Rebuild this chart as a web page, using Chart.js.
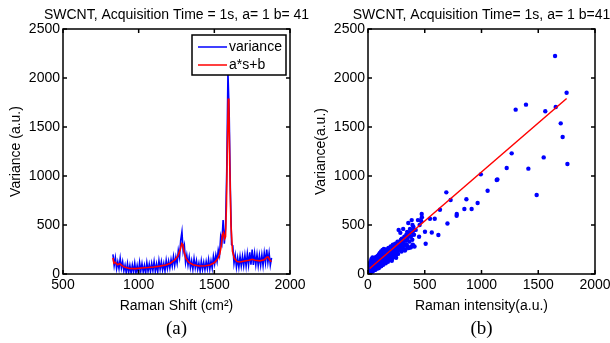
<!DOCTYPE html>
<html>
<head>
<meta charset="utf-8">
<script src="https://cdn.jsdelivr.net/npm/chart.js@4.4.0/dist/chart.umd.min.js"></script>
<style>
  body { margin: 0; background: #fff; }
  #wrap { position: relative; width: 610px; height: 343px; overflow: hidden; }
  .panel { position: absolute; top: 0; height: 343px; }
  .tag { position: absolute; top: 317px; width: 227px; text-align: center;
         font: 19px "Liberation Serif", "Times New Roman", serif; line-height: 22px; color: #000; }
</style>
</head>
<body>
<div id="wrap">
  <div class="panel" style="left:0;width:320px"><canvas id="spectrumChart" width="320" height="343"></canvas></div>
  <div class="panel" style="left:305px;width:305px"><canvas id="scatterChart" width="305" height="343"></canvas></div>
  <div class="tag" style="left:63px">(a)</div>
  <div class="tag" style="left:368px">(b)</div>
</div>
<script>
// (a) measured spectrum: Raman shift vs variance
var shift = [830,838,846,854,862,870,878,886,894,902,
  910,918,926,934,942,950,958,966,974,982,
  990,998,1006,1014,1022,1030,1038,1046,1054,1062,
  1070,1078,1086,1094,1102,1110,1118,1126,1134,1142,
  1150,1158,1166,1174,1182,1190,1198,1206,1214,1222,
  1230,1238,1246,1254,1262,1270,1278,1286,1294,1302,
  1310,1318,1326,1334,1342,1350,1358,1366,1374,1382,
  1390,1398,1406,1414,1422,1430,1438,1446,1454,1462,
  1470,1478,1486,1494,1502,1510,1518,1526,1534,1542,
  1550,1558,1566,1574,1582,1590,1598,1606,1614,1622,
  1630,1638,1646,1654,1662,1670,1678,1686,1694,1702,
  1710,1718,1726,1734,1742,1750,1758,1766,1774,1782,
  1790,1798,1806,1814,1822,1830,1838,1846,1854,1862,
  1870,1878];
var variance = [200,85,165,55,125,55,160,60,125,32,
  90,12,105,16,88,10,92,18,109,8,
  86,7,118,29,105,21,87,8,114,27,
  101,25,108,34,125,26,102,23,135,47,
  124,41,108,31,139,55,132,60,148,80,
  178,88,175,110,240,170,345,430,230,290,
  115,190,90,173,65,134,49,155,62,135,
  48,111,30,134,46,119,43,126,53,147,
  51,132,60,180,102,193,128,245,190,380,
  320,550,310,470,1050,2050,1650,850,300,290,
  110,190,70,163,70,178,82,180,83,190,
  82,205,93,222,96,250,93,209,95,197,
  85,189,89,195,88,215,115,250,120,215,
  90,165];

// (a) fitted curve a*s+b
var fitShift = [830,836,845,860,875,890,910,940,980,1020,
  1060,1100,1140,1180,1210,1240,1260,1275,1285,1292,
  1300,1312,1330,1360,1400,1440,1470,1500,1520,1535,
  1545,1553,1560,1568,1574,1580,1586,1592,1596,1602,
  1610,1620,1632,1650,1670,1700,1730,1750,1770,1800,
  1830,1845,1855,1868,1878];
var fitValue = [165,110,120,95,105,85,68,56,55,62,
  66,72,80,92,110,145,185,250,310,300,
  230,160,120,95,82,84,92,115,150,200,
  280,400,420,360,380,700,1300,1790,1700,1100,
  500,230,160,128,122,132,140,150,140,134,
  145,170,175,140,125];

// (b) Raman intensity vs variance, one entry per pixel
var intensity = [5,8,10,12,15,18,20,22,25,28,30,32,35,38,40,42,45,48,50,52,
  55,58,60,62,65,68,70,72,75,78,80,82,85,88,90,92,95,98,100,102,
  105,108,110,112,115,118,120,125,128,130,135,138,140,145,150,155,160,165,170,175,
  180,185,190,195,200,205,210,215,220,225,230,235,240,245,250,255,260,265,270,275,
  280,285,290,295,300,305,310,315,320,330,335,340,345,350,355,360,365,370,375,380,
  385,390,395,400,405,410,420,440,450,455,465,470,475,
  2,3,6,14,24,33,44,58,66,84,96,116,134,156,176,198,222,248,262,290,325,358,385,
  10,20,30,40,
  3,7,9,13,16,19,23,26,29,34,37,41,46,49,53,57,61,64,67,71,
  74,77,83,87,91,94,99,103,107,113,117,122,127,132,137,143,148,153,158,163,
  168,173,178,183,188,193,203,208,213,218,228,233,238,243,253,258,268,278,288,298,
  308,318,328,338,348,362,378,392,398,
  1648,1750,1392,1301,1562,1654,1698,1715,1486,1757,1548,1413,1266,1222,1134,1140,1054,994,966,913,
  849,867,781,782,690,728,700,634,620,588,562,502,508,546,473];
var pixelVariance = [20,45,30,60,25,80,40,55,95,35,70,110,50,85,120,60,100,75,140,45,
  90,130,65,110,155,80,125,95,170,60,140,105,185,75,150,115,200,90,165,130,
  215,100,175,140,230,115,190,150,245,120,205,170,255,135,220,185,250,150,230,200,
  265,165,240,210,280,175,135,250,300,200,270,230,310,190,280,240,330,205,450,300,
  260,420,350,230,320,270,460,290,380,250,340,300,430,280,520,390,330,460,270,420,
  550,350,300,480,400,280,450,550,380,500,550,537,580,
  10,35,5,40,15,20,30,40,45,55,60,80,95,110,125,150,170,165,230,250,240,265,280,
  90,120,150,170,
  60,15,75,50,100,30,70,125,55,90,30,140,50,115,70,160,95,45,135,175,
  110,85,125,160,95,130,190,75,145,100,170,120,195,145,115,180,160,125,205,175,
  135,215,180,225,150,190,230,200,160,210,240,190,260,220,210,280,250,330,290,360,
  310,340,290,400,360,420,380,500,440,
  2225,1850,1728,1677,1660,1704,1537,1398,806,1122,1190,1075,1231,1082,959,965,850,1017,724,663,
  663,762,595,612,833,755,515,656,398,564,424,431,309,564,612];

// fitted line a=1, b=41
var lineIntensity = [15, 1750];
var lineVariance = [56, 1791];

var shiftTicks = [500, 1000, 1500, 2000];
var intensityTicks = [0, 500, 1000, 1500, 2000];
var varianceTicks = [0, 500, 1000, 1500, 2000, 2500];

var FONT = '"Liberation Sans", Arial, Helvetica, sans-serif';

function pairs(xs, ys) {
  return xs.map(function(v, i) { return { x: v, y: ys[i] }; });
}

// title centred over the plot box, not the whole canvas
var boxTitle = {
  id: 'boxTitle',
  afterDraw: function(chart, args, opts) {
    var ctx = chart.ctx, a = chart.chartArea;
    ctx.save();
    ctx.font = '14px ' + FONT;
    ctx.fillStyle = '#000';
    ctx.textAlign = 'center';
    ctx.textBaseline = 'middle';
    ctx.fillText(opts.text, (a.left + a.right) / 2, 15.5);
    ctx.restore();
  }
};

// box round the plot with inward tick marks on all four sides
var boxAxes = {
  id: 'boxAxes',
  afterDatasetsDraw: function(chart) {
    var ctx = chart.ctx, a = chart.chartArea;
    var sx = chart.scales.x, sy = chart.scales.y;
    ctx.save();
    ctx.strokeStyle = '#000';
    ctx.lineWidth = 1.5;
    ctx.strokeRect(a.left, a.top, a.right - a.left, a.bottom - a.top);
    ctx.beginPath();
    sx.ticks.forEach(function(t) {
      var px = sx.getPixelForValue(t.value);
      ctx.moveTo(px, a.bottom); ctx.lineTo(px, a.bottom - 4);
      ctx.moveTo(px, a.top); ctx.lineTo(px, a.top + 4);
    });
    sy.ticks.forEach(function(t) {
      var py = sy.getPixelForValue(t.value);
      ctx.moveTo(a.left, py); ctx.lineTo(a.left + 4, py);
      ctx.moveTo(a.right, py); ctx.lineTo(a.right - 4, py);
    });
    ctx.stroke();
    ctx.restore();
  }
};

// MATLAB style legend box in the top right corner
var boxLegend = {
  id: 'boxLegend',
  afterDatasetsDraw: function(chart) {
    var ctx = chart.ctx, a = chart.chartArea;
    var right = a.right - 4, top = a.top + 6, w = 94, h = 40;
    ctx.save();
    ctx.fillStyle = '#fff';
    ctx.fillRect(right - w, top, w, h);
    ctx.strokeStyle = '#000';
    ctx.lineWidth = 1.5;
    ctx.strokeRect(right - w, top, w, h);
    ctx.font = '14px ' + FONT;
    ctx.textBaseline = 'middle';
    chart.data.datasets.forEach(function(ds, i) {
      var y = top + 12 + i * 18;
      ctx.strokeStyle = ds.borderColor;
      ctx.lineWidth = 1.5;
      ctx.beginPath();
      ctx.moveTo(right - w + 6, y);
      ctx.lineTo(right - w + 35, y);
      ctx.stroke();
      ctx.fillStyle = '#000';
      ctx.fillText(ds.label, right - w + 37, y);
    });
    ctx.restore();
  }
};

function plainNumber(v) { return String(v); }

function baseOptions(title, xTicks, xLabel, yLabel, padRight) {
  var tickFont = { family: FONT, size: 14 };
  return {
    responsive: false,
    animation: false,
    layout: { padding: { left: 0, right: padRight, top: 29, bottom: 0 } },
    plugins: {
      legend: { display: false },
      tooltip: { enabled: false },
      title: { display: false },
      boxTitle: { text: title }
    },
    scales: {
      x: {
        type: 'linear', min: xTicks[0], max: xTicks[xTicks.length - 1],
        afterBuildTicks: function(s) { s.ticks = xTicks.map(function(v) { return { value: v }; }); },
        ticks: { font: tickFont, color: '#000', padding: 3, maxRotation: 0, callback: plainNumber },
        grid: { display: false, drawTicks: false },
        border: { display: false },
        title: { display: true, text: xLabel, color: '#000', font: tickFont, padding: { top: 0, bottom: 28.6 } },
        afterFit: function(s) { s.height = 69; s.paddingLeft = 0; s.paddingRight = 0; }
      },
      y: {
        type: 'linear', min: 0, max: 2500,
        afterBuildTicks: function(s) { s.ticks = varianceTicks.map(function(v) { return { value: v }; }); },
        ticks: { font: tickFont, color: '#000', padding: 3, callback: plainNumber },
        grid: { display: false, drawTicks: false },
        border: { display: false },
        title: { display: true, text: yLabel, color: '#000', font: tickFont, padding: { top: 7.6, bottom: 0 } },
        afterFit: function(s) { s.width = 63; s.paddingTop = 0; s.paddingBottom = 0; }
      }
    }
  };
}

new Chart(document.getElementById('spectrumChart').getContext('2d'), {
  type: 'line',
  data: {
    datasets: [{
      label: 'variance',
      data: pairs(shift, variance),
      borderColor: '#0000ff',
      borderWidth: 1.6,
      pointRadius: 0,
      tension: 0,
      order: 2
    }, {
      label: 'a*s+b',
      data: pairs(fitShift, fitValue),
      borderColor: '#ff0000',
      borderWidth: 1.6,
      pointRadius: 0,
      tension: 0,
      order: 1
    }]
  },
  options: baseOptions('SWCNT, Acquisition Time = 1s, a= 1 b= 41', shiftTicks, 'Raman Shift (cm²)', 'Variance (a.u.)', 30),
  plugins: [boxAxes, boxLegend, boxTitle]
});

new Chart(document.getElementById('scatterChart').getContext('2d'), {
  type: 'scatter',
  data: {
    datasets: [{
      label: 'pixels',
      data: pairs(intensity, pixelVariance),
      backgroundColor: '#0000ff',
      borderWidth: 0,
      pointRadius: 2.2,
      order: 2
    }, {
      type: 'line',
      label: 'fit',
      data: pairs(lineIntensity, lineVariance),
      borderColor: '#ff0000',
      borderWidth: 1.5,
      pointRadius: 0,
      showLine: true,
      order: 1
    }]
  },
  options: baseOptions('SWCNT, Acquisition Time= 1s, a= 1 b=41', intensityTicks, 'Raman intensity(a.u.)', 'Variance(a.u.)', 15),
  plugins: [boxAxes, boxTitle]
});
</script>
</body>
</html>
